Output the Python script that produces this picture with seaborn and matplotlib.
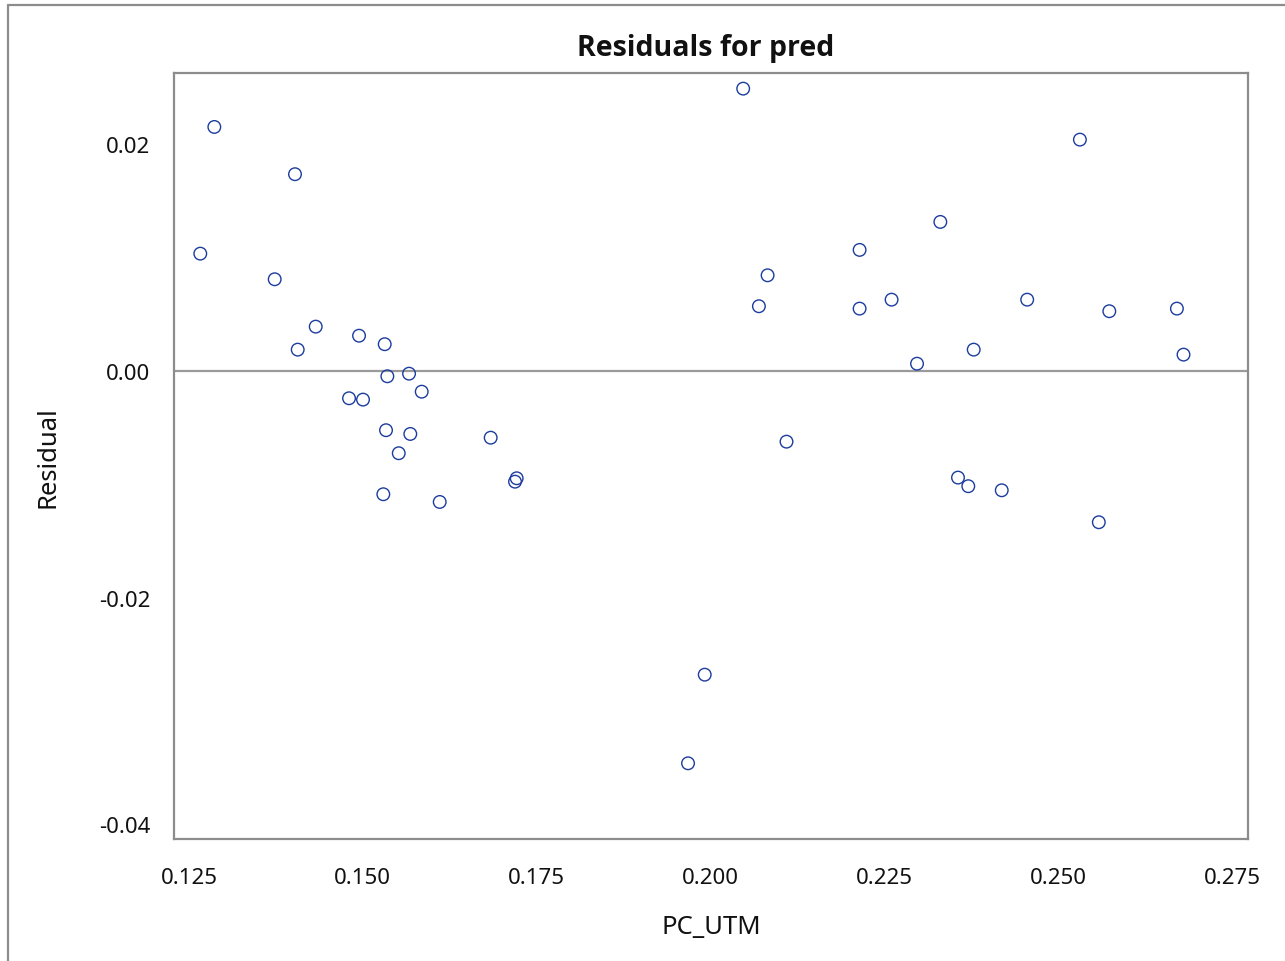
import numpy as np
import pandas as pd
import matplotlib
matplotlib.use("Agg")
import matplotlib.pyplot as plt
from matplotlib.lines import Line2D
import seaborn as sns

# ---- data ----
pc_utm = [
    0.12864, 0.14024, 0.12662, 0.13732, 0.14322, 0.14063, 0.14945, 0.15314,
    0.15352, 0.15664, 0.15846, 0.14801, 0.15002, 0.15333, 0.15682, 0.15516,
    0.16838, 0.17212, 0.17188, 0.15294, 0.16105,
    0.20469, 0.25311, 0.23304, 0.22143, 0.20820, 0.20695, 0.22143, 0.22603,
    0.24553, 0.25734, 0.26706, 0.23784, 0.22969, 0.26801, 0.21092, 0.23558,
    0.23706, 0.24187, 0.25583, 0.19916, 0.19676,
]
residual = [
    0.02153, 0.01736, 0.01035, 0.00809, 0.00391, 0.00188, 0.00311, 0.00236,
    -0.00047, -0.00024, -0.00183, -0.00241, -0.00253, -0.00523, -0.00556, -0.00726,
    -0.00589, -0.00947, -0.00977, -0.01088, -0.01156,
    0.02491, 0.02041, 0.01315, 0.01068, 0.00844, 0.00571, 0.00550, 0.00629,
    0.00629, 0.00527, 0.00550, 0.00188, 0.00064, 0.00144, -0.00624, -0.00941,
    -0.01017, -0.01053, -0.01335, -0.02680, -0.03462,
]
x_ticks = [0.125, 0.150, 0.175, 0.200, 0.225, 0.250, 0.275]
y_ticks = [-0.04, -0.02, 0.00, 0.02]
x_tick_labels = ["0.125", "0.150", "0.175", "0.200", "0.225", "0.250", "0.275"]
y_tick_labels = ["-0.04", "-0.02", "0.00", "0.02"]
title = "Residuals for pred"
x_label = "PC_UTM"
y_label = "Residual"

df = pd.DataFrame({"PC_UTM": pc_utm, "Residual": residual})

sns.set_theme(style="white")
plt.rcParams["font.family"] = ["Noto Sans", "DejaVu Sans"]

W, H = 1285, 962
fig = plt.figure(figsize=(W / 100, H / 100), dpi=100)
ax = fig.add_axes([174 / W, 1 - 840 / H, (1247.7 - 174) / W, (840 - 74) / H])

frame_col = "#8c8c8c"
mark_col = "#1c3c9e"

ax.axhline(0, color="#9a9a9a", lw=1.6, zorder=1)
sns.scatterplot(data=df, x="PC_UTM", y="Residual", ax=ax, marker="o", s=82,
                facecolor="none", edgecolor=mark_col, linewidth=1.0, zorder=3)

ax.set_xlim(0.12284, 0.27724)
ax.set_ylim(-0.04130, 0.02629)
ax.set_xticks(x_ticks)
ax.set_xticklabels(x_tick_labels)
ax.set_yticks(y_ticks)
ax.set_yticklabels(y_tick_labels)

for sp in ax.spines.values():
    sp.set_color(frame_col)
    sp.set_linewidth(1.6)
    sp.set_visible(True)

ax.tick_params(axis="both", which="major", direction="out", length=8,
               width=1.6, color=frame_col, labelsize=16, labelcolor="#111111")
ax.tick_params(axis="x", pad=12)
ax.tick_params(axis="y", pad=9)

ax.set_xlabel(x_label, fontsize=18.5, color="#111111", labelpad=19)
ax.set_ylabel(y_label, fontsize=18.5, color="#111111", labelpad=28)
ax.set_title(title, fontsize=20.5, fontweight="bold", color="#111111", pad=13,
             x=0.4955, family=["Open Sans", "Lato", "DejaVu Sans"])

# outer border of the graph (cropped at right and bottom)
fig.add_artist(Line2D([8 / W, 8 / W], [1 - 6.3 / H, 0], transform=fig.transFigure,
                      color=frame_col, lw=1.6))
fig.add_artist(Line2D([8 / W, 1], [1 - 6.3 / H, 1 - 6.3 / H], transform=fig.transFigure,
                      color=frame_col, lw=1.6))

fig.savefig("out.png", dpi=100, facecolor="white")
